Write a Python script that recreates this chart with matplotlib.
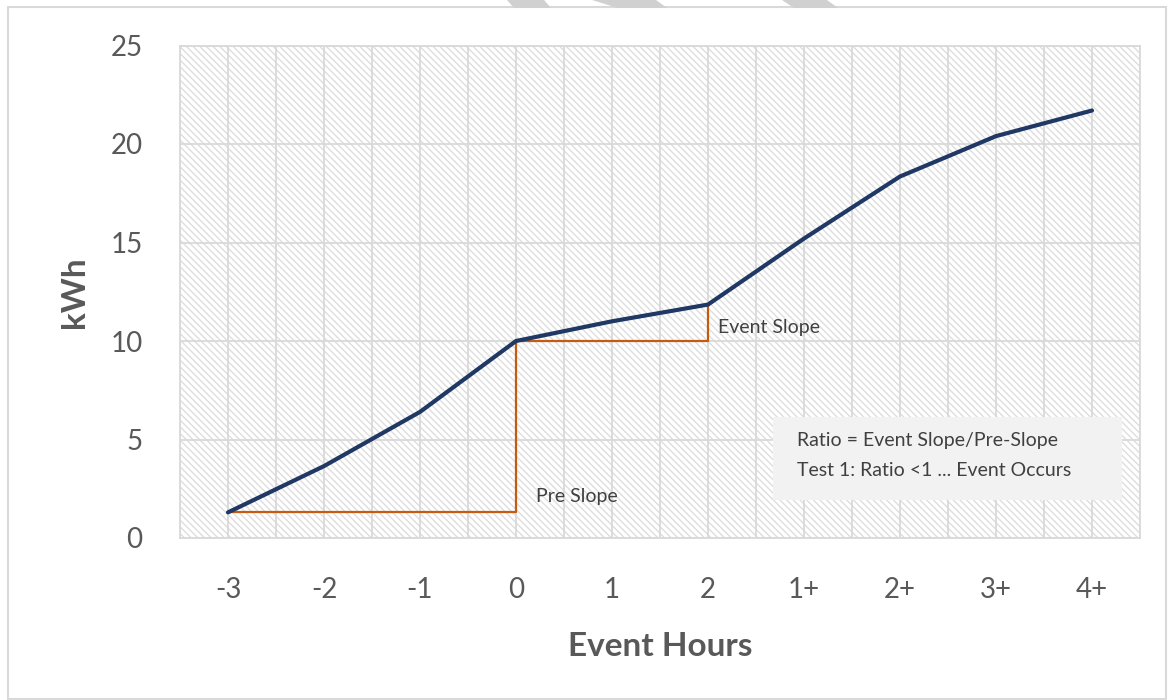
import matplotlib.pyplot as plt
from matplotlib.patches import Rectangle, Polygon

# hourly energy profile around the event
hours = ['-3', '-2', '-1', '0', '1', '2', '1+', '2+', '3+', '4+']
kwh = [1.3, 3.65, 6.4, 10.0, 11.0, 11.85, 15.2, 18.35, 20.4, 21.7]

# slope construction points (category index)
pre_start = 0
event_start = 3
event_end = 5

navy = '#203864'
orange = '#C55A11'
grid_grey = '#D9D9D9'
text_grey = '#595959'

plt.rcParams['font.family'] = ['Lato', 'DejaVu Sans']
plt.rcParams['hatch.color'] = '#DEDEDE'
plt.rcParams['hatch.linewidth'] = 1.0

fig = plt.figure(figsize=(11.68, 7.0), dpi=100)
ax = fig.add_axes([180 / 1168, 1 - 538 / 700, 960 / 1168, 492.5 / 700])

x = list(range(len(hours)))

# hatched plot background
ax.add_patch(Rectangle((0, 0), 1, 1, transform=ax.transAxes, facecolor='white',
                       edgecolor='#DEDEDE', hatch='\\\\\\\\\\', linewidth=0, zorder=0))

ax.set_xlim(-0.5, len(hours) - 0.5)
ax.set_ylim(0, 25)
ax.set_yticks([0, 5, 10, 15, 20, 25])
ax.set_xticks(x)
ax.set_xticklabels(hours)
ax.set_xticks([i + 0.5 for i in range(-1, len(hours))], minor=True)
ax.grid(True, which='both', color=grid_grey, linewidth=1.3, zorder=1)
ax.set_axisbelow(True)
for s in ax.spines.values():
    s.set_color(grid_grey)
    s.set_linewidth(1.3)
ax.tick_params(which='both', length=0)
ax.tick_params(axis='y', pad=27, labelsize=20, labelcolor=text_grey)
ax.tick_params(axis='x', pad=28, labelsize=20, labelcolor=text_grey)

# pre-event and event slope triangles
ax.plot([pre_start, event_start, event_start], [kwh[pre_start], kwh[pre_start], kwh[event_start]],
        color=orange, linewidth=1.6, zorder=3)
ax.plot([event_start, event_end, event_end], [kwh[event_start], kwh[event_start], kwh[event_end]],
        color=orange, linewidth=1.6, zorder=3)

ax.plot(x, kwh, color=navy, linewidth=3.0, solid_capstyle='round', zorder=4)

note_size = 14
ax.text(3.21, 2.1, 'Pre Slope', fontsize=note_size, color='#404040', va='center', zorder=5)
ax.text(5.10, 10.67, 'Event Slope', fontsize=note_size, color='#404040', va='center', zorder=5)

ax.add_patch(Rectangle((5.68, 1.93), 3.63, 4.22, facecolor='#F2F2F2', edgecolor='none', zorder=5))
ax.text(5.93, 4.93, 'Ratio = Event Slope/Pre-Slope', fontsize=note_size, color='#404040',
        va='center', zorder=6)
ax.text(5.93, 3.42, 'Test 1: Ratio <1 ... Event Occurs', fontsize=note_size, color='#404040',
        va='center', zorder=6)

ax.set_ylabel('kWh', fontsize=24, fontweight='bold', color=text_grey)
ax.yaxis.set_label_coords((75 - 180) / 960, 0.5)
ax.set_xlabel('Event Hours', fontsize=24, fontweight='bold', color=text_grey)
ax.xaxis.set_label_coords(0.5, -(647 - 538) / 492.5)
ax.xaxis.label.set_va('center')
ax.yaxis.label.set_va('center')

# outer frame and the grey shapes along the top edge
W, H = 1168, 700
fig.add_artist(Rectangle((8 / W, 1 / H), 1158 / W, 692 / H, transform=fig.transFigure,
                         facecolor='none', edgecolor='#D9D9D9', linewidth=1.5))
for top, bottom in [((507, 544), (514, 551)), ((592, 656), (618, 667)), ((782, 827), (794, 838))]:
    pts = [(top[0] / W, 1), (top[1] / W, 1), (bottom[1] / W, 1 - 8 / H), (bottom[0] / W, 1 - 8 / H)]
    fig.add_artist(Polygon(pts, closed=True, transform=fig.transFigure,
                           facecolor='#D0D0D0', edgecolor='none'))

fig.savefig('out.png', dpi=100)
